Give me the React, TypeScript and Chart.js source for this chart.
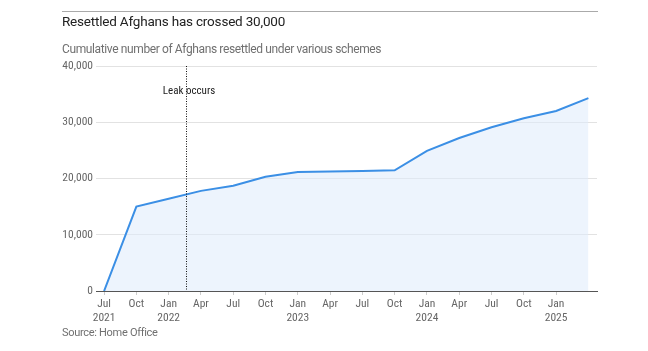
import React, { useEffect, useRef } from "react";
import { Chart, registerables } from "chart.js";

Chart.register(...registerables);

// month index: 0 = Jul 2021
const pointMonths = [0, 3, 6, 9, 12, 15, 18, 21, 24, 27, 30, 33, 36, 39, 42, 45];
const resettled = [0, 15000, 16400, 17800, 18700, 20300, 21150, 21250, 21350, 21450, 24900, 27200, 29100, 30700, 32000, 34300];
const xTickMonths = [0, 3, 6, 9, 12, 15, 18, 21, 24, 27, 30, 33, 36, 39, 42];
const xTickLabels: (string | string[])[] = [
  ["Jul", "2021"], "Oct", ["Jan", "2022"], "Apr", "Jul", "Oct", ["Jan", "2023"], "Apr", "Jul", "Oct",
  ["Jan", "2024"], "Apr", "Jul", "Oct", ["Jan", "2025"],
];
const yTicks = [0, 10000, 20000, 30000, 40000];
const leakMonth = 7.65;
const leakLabel = "Leak occurs";
const xMin = -0.75;
const xMax = 45.8;

const tickFont = "'Roboto Condensed', 'Liberation Sans Narrow', 'Roboto', sans-serif";

export default function App() {
  const ref = useRef<HTMLCanvasElement>(null);
  useEffect(() => {
    const canvas = ref.current!;
    const leakPlugin = {
      id: "leak",
      afterDatasetsDraw(chart: any) {
        const { ctx, chartArea, scales } = chart;
        const x = Math.round(scales.x.getPixelForValue(leakMonth)) + 0.5;
        ctx.save();
        ctx.strokeStyle = "#111";
        ctx.lineWidth = 1;
        ctx.setLineDash([1, 1.5]);
        ctx.beginPath();
        ctx.moveTo(x, chartArea.top);
        ctx.lineTo(x, chartArea.bottom);
        ctx.stroke();
        ctx.setLineDash([]);
        ctx.fillStyle = "#222";
        ctx.font = `11px ${tickFont}`;
        ctx.textAlign = "center";
        ctx.textBaseline = "middle";
        ctx.fillText(leakLabel, x + 2.5, chartArea.top + 25);
        ctx.restore();
      },
    };
    const chart = new Chart(canvas, {
      type: "line",
      data: {
        datasets: [
          {
            data: pointMonths.map((m, i) => ({ x: m, y: resettled[i] })),
            borderColor: "#3b8fe5",
            borderWidth: 2,
            backgroundColor: "rgba(222,235,251,0.55)",
            fill: "origin",
            pointRadius: 0,
            tension: 0,
          },
        ],
      },
      options: {
        animation: false,
        responsive: false,
        layout: { padding: { top: 66, right: 51, left: 0, bottom: 0 } },
        plugins: { legend: { display: false }, tooltip: { enabled: false } },
        scales: {
          x: {
            type: "linear",
            min: xMin,
            max: xMax,
            afterBuildTicks: (scale: any) => {
              scale.ticks = xTickMonths.map((v) => ({ value: v }));
            },
            afterFit: (scale: any) => {
              scale.height = 60;
            },
            ticks: {
              autoSkip: false,
              maxRotation: 0,
              padding: 2,
              color: "#666",
              font: { family: tickFont, size: 11.5, lineHeight: 1.2 },
              callback: (v: any) => {
                const i = xTickMonths.indexOf(Number(v));
                return i >= 0 ? xTickLabels[i] : "";
              },
            },
            grid: {
              display: true,
              drawOnChartArea: false,
              tickLength: 4,
              tickColor: "#ccc",
            },
            border: { display: true, color: "#555", width: 1 },
          },
          y: {
            min: 0,
            max: 40000,
            afterBuildTicks: (scale: any) => {
              scale.ticks = yTicks.map((v) => ({ value: v }));
            },
            afterFit: (scale: any) => {
              scale.width = 96;
            },
            ticks: {
              padding: 3,
              color: "#666",
              font: { family: tickFont, size: 11.5 },
              callback: (v: any) => Number(v).toLocaleString("en-US"),
            },
            grid: { color: "#e2e2e2", drawTicks: false, lineWidth: 1 },
            border: { display: false },
          },
        },
      },
      plugins: [leakPlugin],
    });
    return () => chart.destroy();
  }, []);

  return (
    <div style={{ position: "fixed", left: 0, top: 0, width: 648, height: 351, background: "#fff", fontFamily: "'Roboto', 'Inter', sans-serif" }}>
      <canvas ref={ref} width={648} height={351} style={{ position: "absolute", left: 0, top: 0, width: 648, height: 351 }} />
      <div style={{ position: "absolute", left: 62, top: 11, width: 536, height: 1, background: "#aaa" }} />
      <div style={{ position: "absolute", left: 62, top: 11, fontSize: 13.5, letterSpacing: "-0.2px", lineHeight: "20px", color: "#222", whiteSpace: "nowrap" }}>
        Resettled Afghans has crossed 30,000
      </div>
      <div style={{ position: "absolute", left: 62, top: 40, fontSize: 12, letterSpacing: "-0.38px", lineHeight: "18px", color: "#707070", whiteSpace: "nowrap" }}>
        Cumulative number of Afghans resettled under various schemes
      </div>
      <div style={{ position: "absolute", left: 62, top: 325, fontSize: 11, letterSpacing: "-0.3px", lineHeight: "16px", color: "#707070", whiteSpace: "nowrap" }}>
        Source: Home Office
      </div>
    </div>
  );
}
